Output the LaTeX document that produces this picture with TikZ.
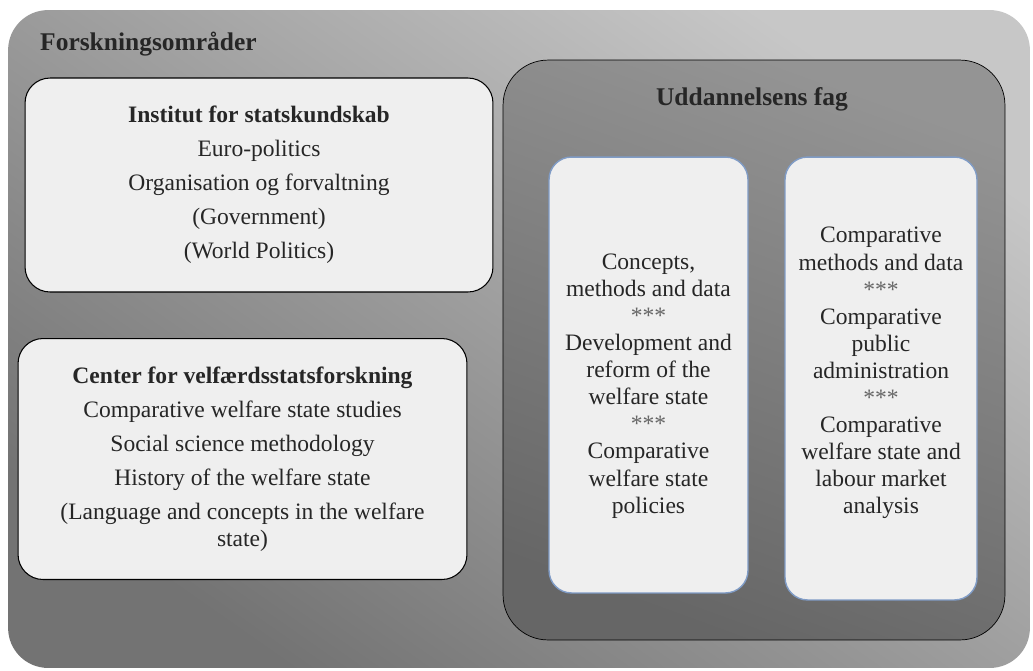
\documentclass[tikz,border=0pt]{standalone}
\usepackage{fontspec}
\setmainfont{Liberation Serif}
\usepackage{tikz}

\definecolor{boxfill}{HTML}{EFEFEF}
\definecolor{fagline}{HTML}{809CC6}
\definecolor{txt}{HTML}{262626}

\newcommand{\stars}{{\color{black!60}***}}

\begin{document}
\begin{tikzpicture}[x=0.02cm,y=-0.02cm,
  text=txt,
  areanode/.style={rounded corners=0.8cm, top color=black!22, bottom color=black!55, shading angle=-35, minimum width=20.44cm, minimum height=13.16cm},
  fagnode/.style={draw=black, rounded corners=0.9cm, top color=black!42, bottom color=black!60, shading angle=-20, minimum width=10.04cm, minimum height=11.6cm},
  grpnode/.style={draw=black, semithick, fill=boxfill, rounded corners=0.5cm, align=center, font=\fontsize{13.4}{19.4}\selectfont},
  kursbox/.style={draw=fagline, thick, fill=boxfill, rounded corners=0.45cm},
  kurstext/.style={align=center, font=\fontsize{13.4}{15.4}\selectfont},
  titlenode/.style={font=\fontsize{14.5}{16}\selectfont\bfseries}]
  \useasboundingbox (0,0) rectangle (1033,670);

  \node[areanode] (omr) at (519,339) {};
  \node[titlenode, anchor=base west] (omrtitle) at (34,50) {Forskningsområder};

  \node[grpnode, minimum width=9.36cm, minimum height=4.28cm] (isk) at (259,185)
    {{\bfseries Institut for statskundskab}\\
     Euro-politics\\
     Organisation og forvaltning\\
     (Government)\\
     (World Politics)};
  \node[grpnode, minimum width=8.98cm, minimum height=4.82cm] (cvf) at (242.5,459)
    {{\bfseries Center for velfærdsstatsforskning}\\
     Comparative welfare state studies\\
     Social science methodology\\
     History of the welfare state\\
     (Language and concepts in the welfare\\[-4pt]
     state)};

  \node[fagnode] (fag) at (754,350) {};
  \node[titlenode, anchor=base] (fagtitle) at (752,105) {Uddannelsens fag};

  \node[kursbox, minimum width=3.98cm, minimum height=8.72cm] (kurs1box) at (648.5,375) {};
  \node[kurstext] (kurs1) at (648.5,386)
    {Concepts,\\ methods and data\\ \stars\\
     Development and\\ reform of the\\ welfare state\\ \stars\\
     Comparative\\ welfare state\\ policies};
  \node[kursbox, minimum width=3.84cm, minimum height=8.86cm] (kurs2box) at (881,378.5) {};
  \node[kurstext] (kurs2) at (881,373)
    {Comparative\\ methods and data\\ \stars\\
     Comparative\\ public\\ administration\\ \stars\\
     Comparative\\ welfare state and\\ labour market\\ analysis};
\end{tikzpicture}
\end{document}
